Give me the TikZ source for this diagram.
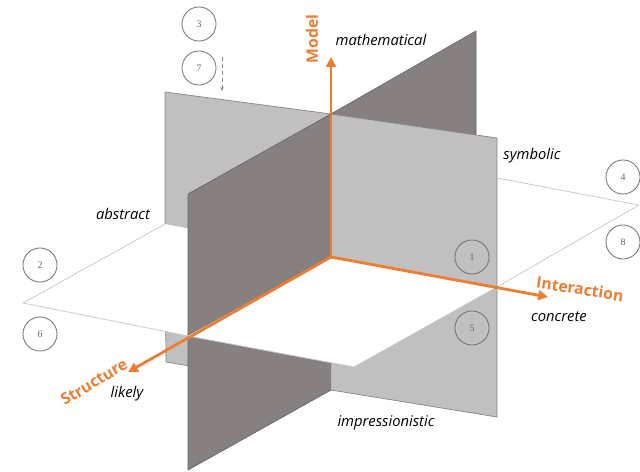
\documentclass[tikz,border=0pt]{standalone}
\usepackage{fontspec}
\setmainfont{Open Sans}
\newfontfamily\numfont{Liberation Serif}
\usepackage{tikz}
\usetikzlibrary{arrows.meta}
\definecolor{axisorange}{HTML}{ED7D31}
\definecolor{planelight}{RGB}{192,192,192}
\definecolor{planedark}{RGB}{134,128,128}

\begin{document}
\begin{tikzpicture}[x=0.025cm, y=-0.025cm,
	num/.style={draw=black!55, circle, line width=0.6pt, minimum size=24.2pt, inner sep=0pt,
		text=black!60, font=\numfont\scriptsize},
	lbl/.style={font=\itshape\fontsize{10.5}{12}\selectfont},
	axlbl/.style={text=axisorange, font=\bfseries\fontsize{11.2}{13}\selectfont},
	axis/.style={draw=axisorange, line width=2pt, -{Triangle[length=7pt, width=7pt]}},
	lightpc/.style={fill=planelight},
	darkpc/.style={fill=planedark},
	whitepc/.style={fill=white},
	lightedge/.style={draw=gray!95, line width=0.5pt, line join=round},
	darkedge/.style={draw=black!60, line width=0.5pt, line join=round},
	whiteedge/.style={draw=gray!45, line width=0.5pt, line join=round}
]
	\useasboundingbox (0,0) rectangle (640,472);

	\coordinate (O) at (331,257);
	\coordinate (Ltl) at (165,92);
	\coordinate (Lt) at (331,114);
	\coordinate (Ltr) at (497,138);
	\coordinate (Lr) at (497,287);
	\coordinate (Lbr) at (497,417);
	\coordinate (Lb) at (331,390);
	\coordinate (Lbl) at (166,362);
	\coordinate (Ll) at (165,224);
	\coordinate (Dtf) at (188,194);
	\coordinate (Dtb) at (476,31);
	\coordinate (Dk) at (476,174);
	\coordinate (Dbb) at (476,309);
	\coordinate (Dbf) at (188,470);
	\coordinate (Df) at (188,336);
	\coordinate (Wl) at (23,303);
	\coordinate (Wb) at (311,143);
	\coordinate (Wr) at (639,205);
	\coordinate (Wf) at (354,367);

	\fill[darkpc] (O) -- (Dk) -- (Dbb) -- (Lb) -- cycle;
	\draw[darkedge] (Dk) -- (Dbb) -- (Lb);
	\fill[lightpc] (O) -- (Ll) -- (Lbl) -- (Lb) -- cycle;
	\draw[lightedge] (Ll) -- (Lbl) -- (Lb);
	\fill[whitepc] (O) -- (Ll) -- (Wb) -- (Dk) -- cycle;
	\draw[whiteedge] (Ll) -- (Wb) -- (Dk);
	\fill[darkpc] (O) -- (Lt) -- (Dtb) -- (Dk) -- cycle;
	\draw[darkedge] (Lt) -- (Dtb) -- (Dk);
	\fill[lightpc] (O) -- (Ll) -- (Ltl) -- (Lt) -- cycle;
	\draw[lightedge] (Ll) -- (Ltl) -- (Lt);
	\fill[whitepc] (O) -- (Dk) -- (Wr) -- (Lr) -- cycle;
	\draw[whiteedge] (Dk) -- (Wr) -- (Lr);
	\fill[lightpc] (O) -- (Lr) -- (Lbr) -- (Lb) -- cycle;
	\draw[lightedge] (Lr) -- (Lbr) -- (Lb);
	\fill[darkpc] (O) -- (Df) -- (Dbf) -- (Lb) -- cycle;
	\draw[darkedge] (Df) -- (Dbf) -- (Lb);
	\fill[whitepc] (O) -- (Ll) -- (Wl) -- (Df) -- cycle;
	\draw[whiteedge] (Ll) -- (Wl) -- (Df);
	\fill[lightpc] (O) -- (Lt) -- (Ltr) -- (Lr) -- cycle;
	\draw[lightedge] (Lt) -- (Ltr) -- (Lr);
	\fill[darkpc] (O) -- (Df) -- (Dtf) -- (Lt) -- cycle;
	\draw[darkedge] (Df) -- (Dtf) -- (Lt);
	\fill[whitepc] (O) -- (Lr) -- (Wf) -- (Df) -- cycle;
	\draw[whiteedge] (Lr) -- (Wf) -- (Df);

	\coordinate (mtip) at (331,57);
	\coordinate (itip) at (548,297);
	\coordinate (stip) at (128,372);
	\draw[axis] (O) -- (mtip);
	\draw[axis] (O) -- (itip);
	\draw[axis] (O) -- (stip);

	\node[axlbl, rotate=90] (model) at (312,39) {Model};
	\node[axlbl, rotate=-9] (inter) at (580,289) {Interaction};
	\node[axlbl, rotate=31] (struct) at (94,382) {Structure};

	\node[lbl] (math) at (381,40) {mathematical};
	\node[lbl] (symb) at (532,156) {symbolic};
	\node[lbl] (abst) at (123,214) {abstract};
	\node[lbl] (conc) at (559,317) {concrete};
	\node[lbl] (likely) at (127,394) {likely};
	\node[lbl] (impr) at (386,423) {impressionistic};

	\node[num] (n3) at (199,24) {3};
	\node[num] (n7) at (199,68) {7};
	\node[num] (n2) at (40,265) {2};
	\node[num] (n6) at (40,334) {6};
	\node[num] (n4) at (623,177) {4};
	\node[num] (n8) at (623,242) {8};
	\node[num] (n1) at (472,257) {1};
	\node[num] (n5) at (472,328) {5};

	\coordinate (dtop) at (222,57);
	\coordinate (dbot) at (222,91);
	\draw[densely dashed, gray!90, line width=0.4pt, -{Stealth[length=3pt, width=2.5pt]}] (dtop) -- (dbot);
\end{tikzpicture}
\end{document}
